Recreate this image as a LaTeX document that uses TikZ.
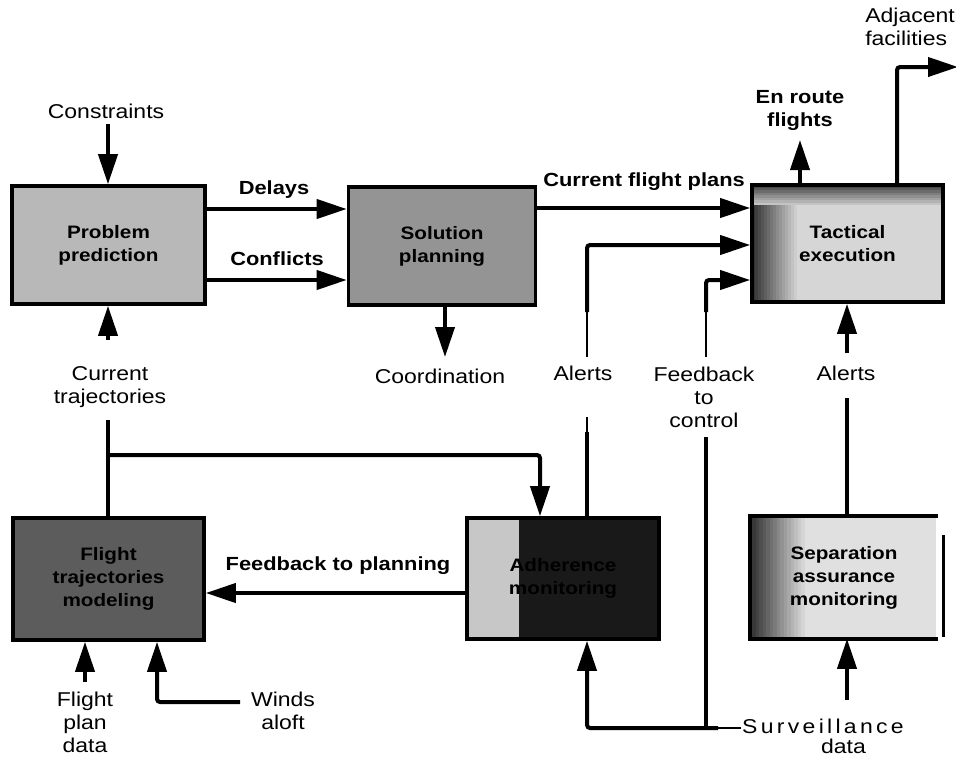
\documentclass[tikz,border=0pt]{standalone}
\usepackage{fontspec}
\setmainfont{Liberation Sans}[FakeStretch=1.15]
\usetikzlibrary{arrows.meta}
\newcommand\lblfont{\fontsize{20}{23}\selectfont}
\newcommand\blblfont{\fontsize{19}{23}\selectfont\bfseries}
\newcommand\boxfont{\fontsize{18}{23}\selectfont\bfseries}
\begin{document}
\begin{tikzpicture}[x=1pt,y=-1pt,
  line/.style={line width=4pt, rounded corners=3pt},
  arr/.style={line width=4pt, rounded corners=3pt, -{Triangle[length=30pt,width=19pt]}},
  thinl/.style={line width=1.3pt},
  box/.style={draw, line width=3.6pt, inner sep=0pt, align=center, font=\boxfont},
  lbl/.style={inner sep=1pt, align=center, font=\lblfont},
  blbl/.style={inner sep=1pt, align=center, font=\blblfont}]
\useasboundingbox (0,0) rectangle (956,756);
\fill[white] (0,0) rectangle (956,756);

% boxes
\node[box, minimum width=193pt, minimum height=118pt, fill=black!28] (pp) at (108.5,245) {Problem\\prediction};
\node[box, minimum width=187pt, minimum height=118pt, fill=black!42] (sp) at (442,246) {Solution\\planning};
\node[box, minimum width=191pt, minimum height=117pt, fill=black!16,
  path picture={
    \foreach \i in {0,...,14}{\pgfmathsetmacro\c{80-4.3*\i}
      \fill[black!\c] ([xshift=\i*3pt]path picture bounding box.south west) rectangle ([xshift=\i*3pt+3.3pt]path picture bounding box.north west);}
    \foreach \i in {0,...,7}{\pgfmathsetmacro\c{72-7*\i}
      \fill[black!\c] ([yshift=-\i*2.5pt]path picture bounding box.north west) rectangle ([yshift=-\i*2.5pt-2.8pt]path picture bounding box.north east);}}]
  (te) at (847.5,243.5) {Tactical\\execution};
\node[box, minimum width=191pt, minimum height=122pt, fill=black!64] (ft) at (108.5,579) {Flight\\trajectories\\modeling};
\node[box, minimum width=192pt, minimum height=121pt, fill=black!90,
  path picture={\fill[black!22]
    (path picture bounding box.south west) rectangle ([xshift=52pt]path picture bounding box.north west);}]
  (am) at (563,578.5) {Adherence\\monitoring};
\node[box, draw=none, minimum width=184pt, minimum height=119pt, fill=black!12,
  path picture={
    \foreach \i in {0,...,14}{\pgfmathsetmacro\c{78-4.4*\i}
      \fill[black!\c] ([xshift=\i*3.5pt]path picture bounding box.south west) rectangle ([xshift=\i*3.5pt+3.8pt]path picture bounding box.north west);}}]
  (sa) at (844,577.5) {Separation\\assurance\\monitoring};
\draw[line width=3.6pt] (sa.north east) -- (sa.north west) -- (sa.south west) -- (sa.south east);
\draw[line width=3pt] ([xshift=6pt,yshift=-19pt]sa.north east) -- ([xshift=6pt,yshift=2pt]sa.south east);

% labels
\node[lbl] (cons) at (106,111) {Constraints};
\node[lbl] (ctr) at (110,387) {Current\\trajectories};
\node[blbl] (del) at (274,190) {Delays};
\node[blbl] (con) at (277,259) {Conflicts};
\node[lbl] (coord) at (440,376) {Coordination};
\node[blbl] (cfp) at (644,182) {Current flight plans};
\node[lbl] (al1) at (583,373) {Alerts};
\node[lbl] (fbc) at (704,397) {Feedback\\to\\control};
\node[lbl] (al2) at (846,373) {Alerts};
\node[blbl] (erf) at (800,110) {En route\\flights};
\node[lbl, anchor=north east, align=left] (adj) at (956,7) {Adjacent\\facilities};
\node[blbl] (fbp) at (338,566) {Feedback to planning};
\node[lbl] (fpd) at (85,722) {Flight\\plan\\data};
\node[lbl] (wa) at (283,711) {Winds\\aloft};
\node[inner sep=1pt, align=right, font=\fontsize{20}{19.5}\selectfont, anchor=north west] (sv) at (741,718)
  {S\hspace{3.3pt}u\hspace{3.3pt}r\hspace{3.3pt}v\hspace{3.3pt}e\hspace{3.3pt}i\hspace{3.3pt}l\hspace{3.3pt}l\hspace{3.3pt}a\hspace{3.3pt}n\hspace{3.3pt}c\hspace{3.3pt}e\\data\hspace*{38pt}};

% free-end coordinates
\coordinate (cttail) at (108,340);
\coordinate (ctdown) at (108,420);
\coordinate (ctbranch) at (108,455);
\coordinate (amin) at (540,455);
\coordinate (coordtip) at (445,357);
\coordinate (erftip) at (800,140);
\coordinate (adjtip) at (958,67);
\coordinate (a1top) at (587,312);
\coordinate (a1low) at (587,357);
\coordinate (a1b) at (587,417);
\coordinate (a1c) at (587,432);
\coordinate (fctop) at (706,312);
\coordinate (fclow) at (706,357);
\coordinate (fcb) at (706,437);
\coordinate (junc) at (706,728);
\coordinate (svend) at (718,728);
\coordinate (svcorner) at (587,728);
\coordinate (a2tail) at (847,353);
\coordinate (a2b) at (847,398);
\coordinate (satail) at (847,700);
\coordinate (fptail) at (85,682);
\coordinate (watail) at (240,702);

% connectors
\draw[arr] (cons.south) ++(2,4) coordinate (constail) -- (constail |- pp.north);
\draw[arr] (cttail) -- (cttail |- pp.south);
\draw[arr] (pp.east |- 0,209) -- (sp.west |- 0,209);
\draw[arr] (pp.east |- 0,280) -- (sp.west |- 0,280);
\draw[arr] (coordtip |- sp.south) -- (coordtip);
\draw[arr] (sp.east |- 0,208) -- (te.west |- 0,208);
\draw[arr] (a1top) |- (te.west |- 0,245);
\draw[thinl] (a1top) -- (a1low);
\draw[thinl] (a1b) -- (a1c);
\draw[line] (a1c) -- (a1c |- am.north);
\draw[arr] (fctop) |- (te.west |- 0,280);
\draw[thinl] (fctop) -- (fclow);
\draw[line] (fcb) -- (junc);
\draw[arr] (erftip |- te.north) -- (erftip);
\draw[arr] (897,0 |- te.north) |- (adjtip);
\draw[arr] (a2tail) -- (a2tail |- te.south);
\draw[line] (a2b) -- (a2b |- sa.north);
\draw[arr] (satail) -- (satail |- sa.south);
\draw[line] (ctdown) -- (ctdown |- ft.north);
\draw[arr] (ctbranch) -- (amin) -- (amin |- am.north);
\draw[arr] (am.west |- 0,593) -- (ft.east |- 0,593);
\draw[arr] (fptail) -- (fptail |- ft.south);
\draw[arr] (watail) -| (157,0 |- ft.south);
\draw[arr] (svend) -- (svcorner) -- (svcorner |- am.south);
\draw[thinl] (svend) -- (svend -| sv.west);
\end{tikzpicture}
\end{document}
